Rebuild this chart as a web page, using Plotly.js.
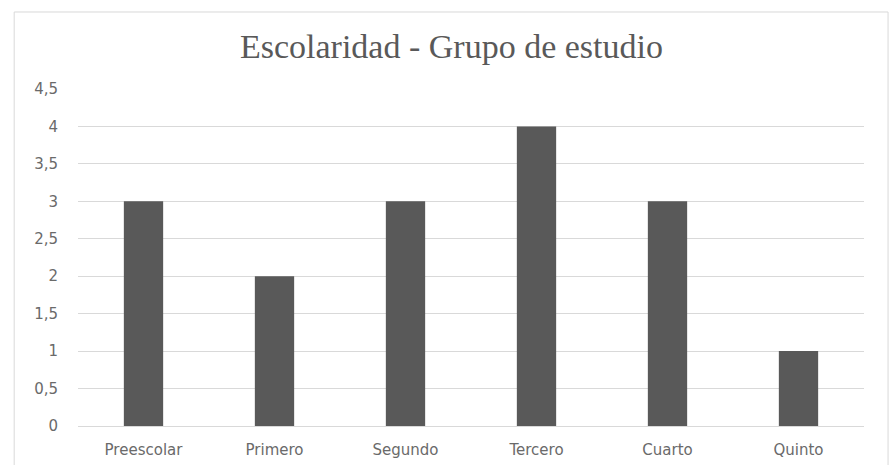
<!DOCTYPE html>
<html>
<head>
<meta charset="utf-8">
<script src="https://cdn.plot.ly/plotly-3.0.1.min.js"></script>
<style>
  html, body { margin: 0; padding: 0; background: #ffffff; }
  #chart { width: 894px; height: 465px; }
</style>
</head>
<body>
<div id="chart"></div>
<script>
// Grade levels of the study group and how many students are in each
const categories = ["Preescolar", "Primero", "Segundo", "Tercero", "Cuarto", "Quinto"];
const counts = [3, 2, 3, 4, 3, 1];
const yTicks = [0, 0.5, 1, 1.5, 2, 2.5, 3, 3.5, 4, 4.5];

const textGray = "#595959";
const tickGray = "#6a6a6a";

const trace = {
  type: "bar",
  x: categories,
  y: counts,
  marker: { color: "#595959", line: { width: 0 } },
  hoverinfo: "x+y"
};

const layout = {
  width: 894,
  height: 465,
  margin: { l: 78, r: 30, t: 89, b: 39 },
  paper_bgcolor: "#ffffff",
  plot_bgcolor: "#ffffff",
  separators: ",.",
  bargap: 0.7,
  showlegend: false,
  title: {
    text: "Escolaridad - Grupo de estudio",
    font: { family: "Liberation Serif, Times New Roman, serif", size: 34, color: textGray },
    x: 0.505,
    xanchor: "center",
    y: 0.9,
    yanchor: "middle"
  },
  xaxis: {
    type: "category",
    showgrid: false,
    zeroline: false,
    showline: false,
    ticks: "",
    ticklabelstandoff: 13,
    tickfont: { family: "DejaVu Sans, Verdana, sans-serif", size: 15, color: tickGray }
  },
  yaxis: {
    range: [0, 4.5],
    tickvals: yTicks,
    showgrid: true,
    gridcolor: "#d9d9d9",
    gridwidth: 1,
    zeroline: true,
    zerolinecolor: "#d9d9d9",
    zerolinewidth: 1,
    showline: false,
    ticks: "",
    ticklabelstandoff: 19,
    tickfont: { family: "DejaVu Sans, Verdana, sans-serif", size: 15, color: tickGray }
  },
  shapes: [
    {
      // light frame around the whole chart area
      type: "rect",
      xref: "paper", yref: "paper",
      x0: -0.0812, x1: 1.0306,
      y0: -0.2, y1: 1.2285,
      line: { color: "#d9d9d9", width: 1 },
      fillcolor: "rgba(0,0,0,0)",
      layer: "below"
    }
  ]
};

Plotly.newPlot("chart", [trace], layout, { displayModeBar: false, staticPlot: true });
</script>
</body>
</html>
